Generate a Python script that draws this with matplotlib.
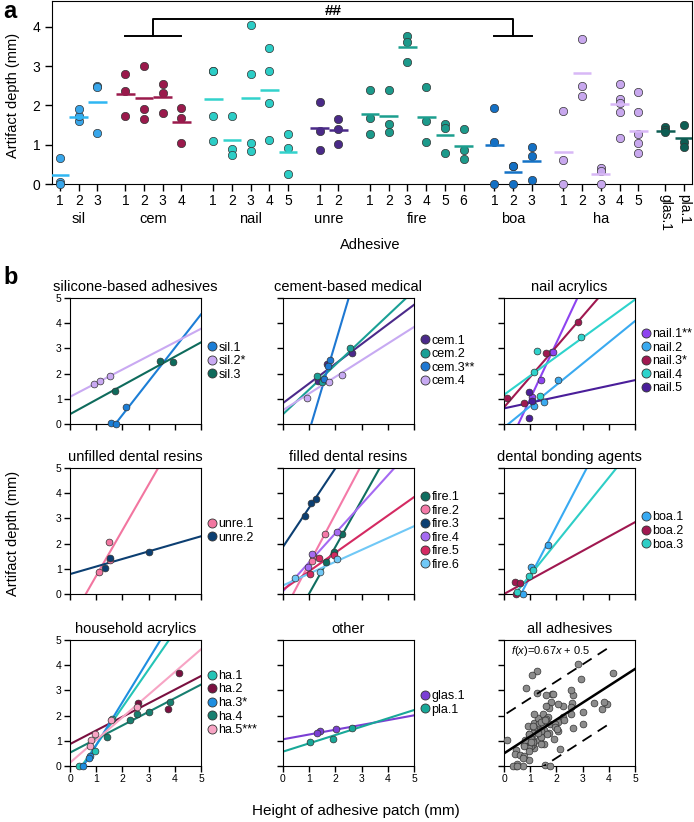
import numpy as np
import matplotlib.pyplot as plt
from matplotlib.lines import Line2D

plt.rcParams['font.family'] = ['Liberation Sans', 'DejaVu Sans']
plt.rcParams['mathtext.fontset'] = 'custom'
plt.rcParams['mathtext.rm'] = 'Liberation Sans'
plt.rcParams['mathtext.it'] = 'Liberation Sans:italic'

# ---- data: artifact depth (mm) per adhesive sample, height of patch (mm) ----
sil_labels = ['sil.1', 'sil.2*', 'sil.3']
sil_depth = [[0.05, 0.0, 0.66], [1.59, 1.72, 1.90], [1.29, 2.50, 2.46]]
sil_height = [[1.58, 1.74, 2.15], [0.92, 1.13, 1.51], [1.72, 3.42, 3.92]]
sil_mean = [0.23, 1.71, 2.08]
sil_slope = [1.33, 0.54, 0.57]
sil_icpt = [-2.30, 1.08, 0.39]

cem_labels = ['cem.1', 'cem.2', 'cem.3**', 'cem.4']
cem_depth = [[2.80, 2.37, 1.72], [3.00, 1.90, 1.66], [2.53, 2.31, 1.80], [1.94, 1.68, 1.05]]
cem_height = [[2.63, 1.69, 1.35], [2.54, 1.30, 1.50], [1.81, 1.70, 1.58], [2.26, 1.76, 0.92]]
cem_mean = [2.30, 2.19, 2.21, 1.57]
cem_slope = [0.78, 0.98, 3.50, 0.66]
cem_icpt = [0.83, 0.39, -3.78, 0.55]

nail_labels = ['nail.1**', 'nail.2', 'nail.3*', 'nail.4', 'nail.5']
nail_depth = [[2.87, 2.87, 1.74, 1.09], [1.73, 0.88, 0.73], [4.03, 2.80, 1.03, 0.85],
              [3.45, 2.88, 2.07, 1.11], [1.27, 0.92, 0.25]]
nail_height = [[1.85, 1.88, 1.41, 1.05], [2.07, 1.53, 1.15], [2.81, 1.60, 0.10, 0.78],
               [2.95, 1.25, 1.15, 1.37], [0.95, 1.05, 0.95]]
nail_mean = [2.15, 1.11, 2.18, 2.39, 0.81]
nail_slope = [2.22, 0.845, 1.205, 0.755, 0.224]
nail_icpt = [-1.22, -0.14, 0.66, 1.16, 0.62]

unre_labels = ['unre.1', 'unre.2']
unre_depth = [[2.08, 1.35, 0.87], [1.65, 1.41, 1.02]]
unre_height = [[1.47, 1.52, 1.10], [3.03, 1.54, 1.35]]
unre_mean = [1.43, 1.37]
unre_slope = [1.81, 0.30]
unre_icpt = [-1.09, 0.79]

fire_labels = ['fire.1', 'fire.2', 'fire.3', 'fire.4', 'fire.5', 'fire.6']
fire_depth = [[2.39, 1.67, 1.26], [2.39, 1.52, 1.32], [3.77, 3.61, 3.09],
              [2.46, 1.60, 1.06], [1.53, 1.43, 0.79], [1.39, 0.87, 0.64]]
fire_height = [[2.24, 1.95, 1.65], [1.60, 1.15, 1.10], [1.27, 1.07, 0.85],
               [2.07, 1.12, 0.95], [1.93, 1.37, 1.02], [2.06, 1.42, 0.47]]
fire_mean = [1.78, 1.74, 3.49, 1.70, 1.25, 0.97]
fire_slope = [1.85, 1.96, 1.56, 1.15, 0.735, 0.47]
fire_icpt = [-1.83, -0.75, 1.87, 0.11, 0.17, 0.34]

boa_labels = ['boa.1', 'boa.2', 'boa.3']
boa_depth = [[1.94, 1.08, 0.0], [0.47, 0.45, 0.0], [0.95, 0.70, 0.09]]
boa_height = [[1.69, 1.02, 0.74], [0.42, 0.62, 0.45], [1.10, 0.95, 0.50]]
boa_mean = [1.00, 0.31, 0.585]
boa_slope = [1.99, 0.57, 1.29]
boa_icpt = [-1.29, 0.0, -0.54]

ha_labels = ['ha.1', 'ha.2', 'ha.3*', 'ha.4', 'ha.5***']
ha_depth = [[1.85, 0.61, 0.0], [3.68, 2.49, 2.25], [0.40, 0.33, 0.0],
            [2.53, 2.16, 2.06, 1.83, 1.16], [2.35, 1.82, 1.26, 1.03, 0.79]]
ha_height = [[1.62, 0.96, 0.34], [4.15, 2.58, 3.75], [0.75, 0.72, 0.50],
             [3.80, 3.02, 2.55, 2.30, 1.43], [2.55, 1.55, 0.95, 0.80, 0.78]]
ha_mean = [0.81, 2.82, 0.25, 2.03, 1.34]
ha_slope = [1.50, 0.54, 1.70, 0.54, 0.90]
ha_icpt = [-0.67, 0.87, -0.87, 0.53, 0.13]

oth_labels = ['glas.1', 'pla.1']
oth_depth = [[1.46, 1.37, 1.31], [1.49, 1.08, 0.94]]
oth_height = [[2.01, 1.40, 1.30], [2.65, 1.91, 1.02]]
oth_mean = [1.36, 1.18]
oth_slope = [0.19, 0.33]
oth_icpt = [1.06, 0.57]

fit_slope, fit_icpt, band = 0.67, 0.5, 1.52

group_names = ['sil', 'cem', 'nail', 'unre', 'fire', 'boa', 'ha', '']
titles = ['silicone-based adhesives', 'cement-based medical', 'nail acrylics',
          'unfilled dental resins', 'filled dental resins', 'dental bonding agents',
          'household acrylics', 'other', 'all adhesives']
labels = [sil_labels, cem_labels, nail_labels, unre_labels, fire_labels, boa_labels, ha_labels, oth_labels]
depths = [sil_depth, cem_depth, nail_depth, unre_depth, fire_depth, boa_depth, ha_depth, oth_depth]
heights = [sil_height, cem_height, nail_height, unre_height, fire_height, boa_height, ha_height, oth_height]
means = [sil_mean, cem_mean, nail_mean, unre_mean, fire_mean, boa_mean, ha_mean, oth_mean]
slopes = [sil_slope, cem_slope, nail_slope, unre_slope, fire_slope, boa_slope, ha_slope, oth_slope]
icpts = [sil_icpt, cem_icpt, nail_icpt, unre_icpt, fire_icpt, boa_icpt, ha_icpt, oth_icpt]

# colours
pt_col_a = ['#38a6ea', '#9a1a4c', '#2ccdc6', '#4a2a88', '#1c9a8b', '#1470c4', '#c8a8ee', '#0d5d53']
mean_col_a = ['#2fb6f2', '#9a1a4c', '#33d2cc', '#4a2a88', '#1c9e8e', '#1472c6', '#d8b8f6', '#0d5d53']
series_cols = [
    ['#1c7ed6', '#c9a9f2', '#0e6b5c'],
    ['#4b2a8a', '#1aa096', '#1e78d2', '#c7aaf2'],
    ['#8e44f0', '#3aaaf0', '#a01850', '#2dd3cc', '#4a1e9a'],
    ['#f276a0', '#0c3f72'],
    ['#0f6e60', '#f47aa8', '#0c3f72', '#a56af2', '#d42a62', '#70c8f6'],
    ['#38aaf2', '#a01850', '#2ecec6'],
    ['#24c4b6', '#7a1040', '#1e8ee0', '#177f70', '#f7a4c4'],
    ['#7b3fd4', '#18a898'],
]
group_gap = [1.5, 1.7, 1.7, 1.7, 1.65, 1.7, 1.45]

W, H = 694, 822
fig = plt.figure(figsize=(W / 100, H / 100), dpi=100)


def px_axes(x0, y0, x1, y1):
    return fig.add_axes([x0 / W, 1 - y1 / H, (x1 - x0) / W, (y1 - y0) / H])


# ---------------- panel a ----------------
ax = px_axes(52, 1.5, 692, 184)
pos = 0.0
ticks, ticklabels, centers, first_idx = [], [], [], []
for g in range(len(group_names)):
    if g > 0:
        pos += group_gap[g - 1]
    start = pos
    first_idx.append(len(ticks))
    for i, (vals, m) in enumerate(zip(depths[g], means[g])):
        ax.scatter([pos] * len(vals), vals, s=36, color=pt_col_a[g], edgecolor='#333333',
                   linewidth=0.5, zorder=3, clip_on=False)
        ax.plot([pos - 0.5, pos + 0.5], [m, m], color=mean_col_a[g], lw=1.8,
                solid_capstyle='butt', zorder=4)
        ticks.append(pos)
        ticklabels.append(str(i + 1) if group_names[g] else labels[g][i])
        pos += 1
    pos -= 1
    centers.append((start + pos) / 2)
    if group_names[g]:
        ax.text((start + pos) / 2, -0.19, group_names[g], transform=ax.get_xaxis_transform(),
                ha='center', va='center', fontsize=10.5)

ax.set_xlim(-0.43, pos + 0.43)
ax.set_ylim(0, 4.64)
ax.set_xticks(ticks)
ax.set_xticklabels(ticklabels)
for t in ax.get_xticklabels()[-2:]:
    t.set_rotation(-90)
    t.set_fontsize(9)
ax.set_yticks([0, 1, 2, 3, 4])
ax.tick_params(direction='out', length=5, width=1, labelsize=10)
ax.tick_params(axis='x', pad=2)

# significance bracket cem vs boa
cem_lo, cem_hi = ticks[first_idx[1]], ticks[first_idx[1] + 3]
boa_lo, boa_hi = ticks[first_idx[5]], ticks[first_idx[5] + 2]
kw = dict(color='k', lw=1.4, clip_on=False, zorder=5)
ax.plot([cem_lo, cem_hi], [3.77, 3.77], **kw)
ax.plot([boa_lo, boa_hi], [3.77, 3.77], **kw)
ax.plot([centers[1], centers[1], centers[5], centers[5]], [3.77, 4.2, 4.2, 3.77], **kw)
ax.text((centers[1] + centers[5]) / 2, 4.22, '##', ha='center', va='bottom', fontsize=11, fontweight='bold')

fig.text(13 / W, 1 - 95 / H, 'Artifact depth (mm)', rotation=90, ha='center', va='center', fontsize=10.5)
fig.text(370 / W, 1 - 245 / H, 'Adhesive', ha='center', va='center', fontsize=10.5)
fig.text(3 / W, 1 - 0 / H, 'a', ha='left', va='top', fontsize=17, fontweight='bold')
fig.text(3 / W, 1 - 266 / H, 'b', ha='left', va='top', fontsize=17, fontweight='bold')

# ---------------- panel b ----------------
col_x = [70, 283, 504]
row_y = [298, 468, 640]
xs = np.array([0.0, 5.0])
for k in range(9):
    r, c = divmod(k, 3)
    bx = px_axes(col_x[c], row_y[r], col_x[c] + 131, row_y[r] + 126)
    bx.set_xlim(0, 5)
    bx.set_ylim(0, 5)
    bx.set_xticks(range(6))
    bx.set_yticks(range(6))
    bx.tick_params(direction='out', length=4, width=1, labelsize=7.5, pad=2,
                   labelleft=(c == 0), labelbottom=(r == 2))
    bx.set_title(titles[k], fontsize=10.5, pad=5)
    if k < 8:
        handles = []
        for j in range(len(labels[k])):
            col = series_cols[k][j]
            bx.plot(xs, slopes[k][j] * xs + icpts[k][j], color=col, lw=1.5, zorder=2)
            bx.scatter(heights[k][j], depths[k][j], s=24, color=col, edgecolor='#333333',
                       linewidth=0.5, zorder=3, clip_on=False)
            handles.append(Line2D([], [], marker='o', ls='', mfc=col, mec='#333333', mew=0.6,
                                  ms=6.5, label=labels[k][j]))
        bx.legend(handles=handles, loc='center left', bbox_to_anchor=(1.0, 0.5), frameon=False,
                  fontsize=9, handletextpad=0.1, handlelength=0.9, borderaxespad=0.2,
                  labelspacing=0.12, borderpad=0.2)
    else:
        all_h = np.concatenate([np.concatenate(h) for h in heights])
        all_d = np.concatenate([np.concatenate(d) for d in depths])
        bx.scatter(all_h, all_d, s=24, color='#8c8c8c', edgecolor='#333333', linewidth=0.5,
                   zorder=3, clip_on=False)
        bx.plot(xs, fit_slope * xs + fit_icpt, color='k', lw=1.8, zorder=4)
        xb = np.array([all_h.min(), all_h.max()])
        for sgn in (1, -1):
            bx.plot(xb, fit_slope * xb + fit_icpt + sgn * band, color='k', lw=1.3,
                    dashes=(6, 4), zorder=4)
        bx.text(0.05, 0.97, r'$f$($x$)=0.67$x$ + 0.5', transform=bx.transAxes,
                ha='left', va='top', fontsize=8)

fig.text(13 / W, 1 - 533 / H, 'Artifact depth (mm)', rotation=90, ha='center', va='center', fontsize=10.5)
fig.text(356 / W, 1 - 811 / H, 'Height of adhesive patch (mm)', ha='center', va='center', fontsize=11)

fig.savefig('out.png', dpi=100)
